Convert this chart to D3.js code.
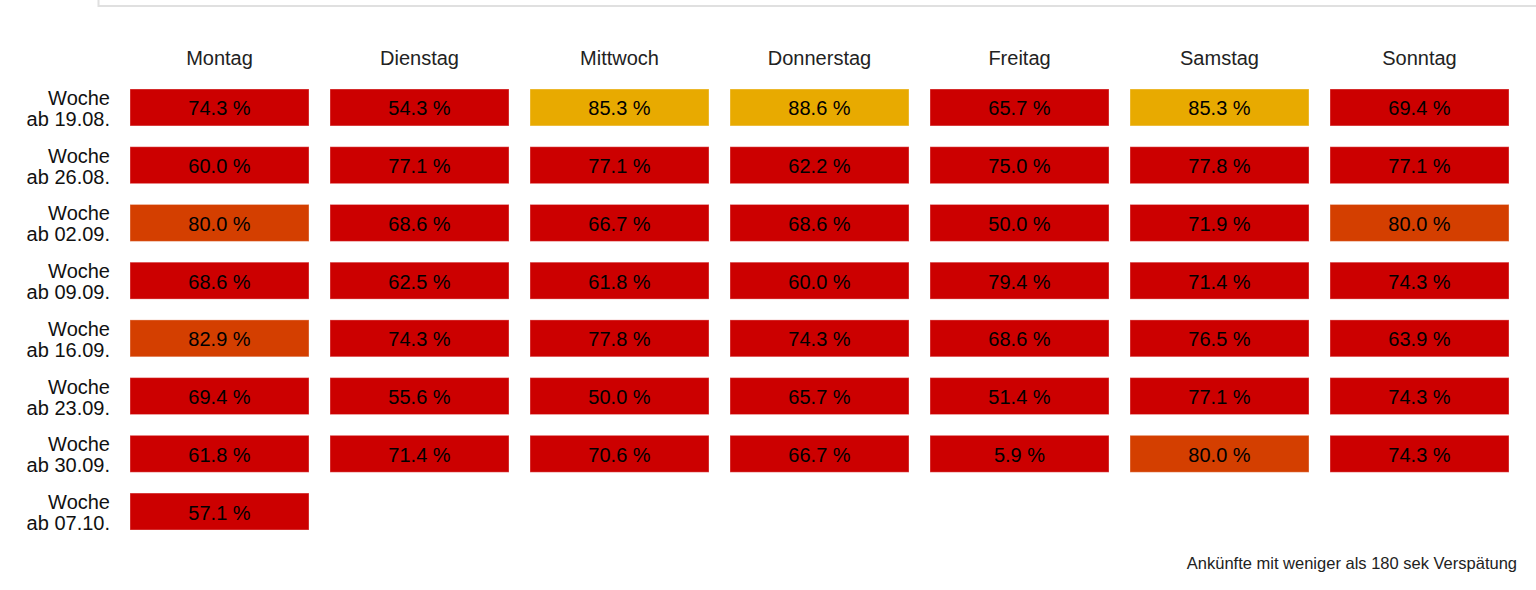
<!DOCTYPE html>
<html>
<head>
<meta charset="utf-8">
<script src="https://cdn.jsdelivr.net/npm/d3@7"></script>
<style>
  body { margin: 0; background: #fff; }
  text { font-family: "Liberation Sans", Arial, sans-serif; }
</style>
</head>
<body>
<div id="chart"></div>
<script>
var width = 1536,
    height = 590;

var days = ["Montag", "Dienstag", "Mittwoch", "Donnerstag", "Freitag", "Samstag", "Sonntag"];
var weeks = ["19.08.", "26.08.", "02.09.", "09.09.", "16.09.", "23.09.", "30.09.", "07.10."];

// share of arrivals with less than 180 s delay, one array per week
var w1908 = [74.3, 54.3, 85.3, 88.6, 65.7, 85.3, 69.4];
var w2608 = [60.0, 77.1, 77.1, 62.2, 75.0, 77.8, 77.1];
var w0209 = [80.0, 68.6, 66.7, 68.6, 50.0, 71.9, 80.0];
var w0909 = [68.6, 62.5, 61.8, 60.0, 79.4, 71.4, 74.3];
var w1609 = [82.9, 74.3, 77.8, 74.3, 68.6, 76.5, 63.9];
var w2309 = [69.4, 55.6, 50.0, 65.7, 51.4, 77.1, 74.3];
var w3009 = [61.8, 71.4, 70.6, 66.7, 5.9, 80.0, 74.3];
var w0710 = [57.1];

var rows = [w1908, w2608, w0209, w0909, w1609, w2309, w3009, w0710];

var cells = [];
rows.forEach(function(vals, i) {
  vals.forEach(function(v, j) {
    cells.push({week: weeks[i], day: days[j], value: v});
  });
});

var x = d3.scaleBand()
    .domain(days)
    .range([130, 1509])
    .paddingInner(0.105)
    .paddingOuter(0);

var y = d3.scaleBand()
    .domain(weeks)
    .range([89, 530])
    .paddingInner(0.36)
    .paddingOuter(0);

var color = d3.scaleThreshold()
    .domain([80, 85])
    .range(["#cc0000", "#d43f00", "#e8aa00"]);

var svg = d3.select("#chart").append("svg")
    .attr("width", width)
    .attr("height", height);

// box of the element above, only its lower edge is visible
svg.append("rect")
    .attr("x", 98.5)
    .attr("y", -20)
    .attr("width", width)
    .attr("height", 26)
    .attr("fill", "#fff")
    .attr("stroke", "#e0e0e0")
    .attr("stroke-width", 2);

svg.append("g")
  .selectAll("text")
  .data(days)
  .join("text")
    .attr("x", function(d) { return x(d) + x.bandwidth() / 2; })
    .attr("y", 65)
    .attr("text-anchor", "middle")
    .attr("font-size", 20)
    .attr("fill", "#222")
    .text(function(d) { return d; });

var labels = svg.append("g")
  .selectAll("text")
  .data(weeks)
  .join("text")
    .attr("text-anchor", "end")
    .attr("font-size", 20)
    .attr("fill", "#111");

labels.append("tspan")
    .attr("x", 110)
    .attr("y", function(d) { return y(d) + 16; })
    .text("Woche");

labels.append("tspan")
    .attr("x", 110)
    .attr("y", function(d) { return y(d) + 37; })
    .text(function(d) { return "ab " + d; });

var cell = svg.append("g")
  .selectAll("g")
  .data(cells)
  .join("g")
    .attr("transform", function(d) { return "translate(" + x(d.day) + "," + y(d.week) + ")"; });

cell.append("rect")
    .attr("width", x.bandwidth())
    .attr("height", y.bandwidth())
    .attr("fill", function(d) { return color(d.value); })
    .attr("stroke", "rgba(255,255,255,0.35)")
    .attr("stroke-width", 1);

cell.append("text")
    .attr("x", x.bandwidth() / 2)
    .attr("y", y.bandwidth() / 2 + 8)
    .attr("text-anchor", "middle")
    .attr("font-size", 20)
    .attr("fill", "#000")
    .text(function(d) { return d.value.toFixed(1) + " %"; });

svg.append("text")
    .attr("x", 1517)
    .attr("y", 569)
    .attr("text-anchor", "end")
    .attr("font-size", 16.5)
    .attr("fill", "#222")
    .text("Ankünfte mit weniger als 180 sek Verspätung");
</script>
</body>
</html>
